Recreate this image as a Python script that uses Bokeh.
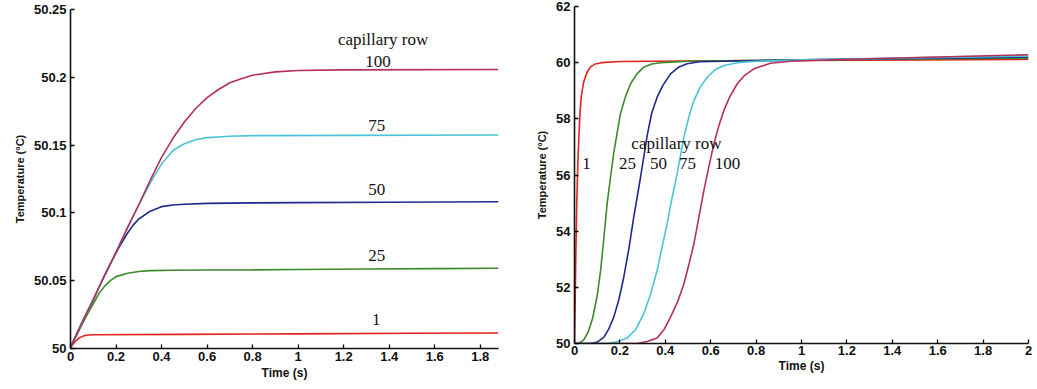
from bokeh.plotting import figure
from bokeh.layouts import row
from bokeh.models import Range1d, FixedTicker
from bokeh.core.properties import value
from bokeh.embed import file_html
from bokeh.resources import INLINE

# ---------------- data: left panel (temperature rise, small scale) ----------------
rows = ["1", "25", "50", "75", "100"]
colors = ["#e0241c", "#3a8a2a", "#1e2a8a", "#4cc4d8", "#b52f5c"]

L_t_1 = [0, 0.02, 0.04, 0.06, 0.08, 0.1, 0.5, 1.0, 1.5, 1.88]
L_v_1 = [50.001, 50.005, 50.008, 50.0095, 50.0100, 50.0101, 50.0104, 50.0108, 50.0112, 50.0114]

L_t_25 = [0, 0.025, 0.05, 0.075, 0.1, 0.125, 0.15, 0.175, 0.2, 0.25, 0.3, 0.35, 0.45, 0.6, 0.8, 1.0, 1.3, 1.6, 1.88]
L_v_25 = [50.001, 50.009, 50.0175, 50.0255, 50.033, 50.0405, 50.046, 50.050, 50.053, 50.0555, 50.0568,
          50.0574, 50.0577, 50.0579, 50.058, 50.0583, 50.0586, 50.0589, 50.0592]

L_t_50 = [0, 0.05, 0.1, 0.15, 0.2, 0.225, 0.25, 0.275, 0.3, 0.35, 0.4, 0.45, 0.5, 0.6, 0.8, 1.0, 1.4, 1.88]
L_v_50 = [50.001, 50.019, 50.036, 50.054, 50.0705, 50.078, 50.085, 50.091, 50.0955, 50.1013, 50.1046,
          50.1058, 50.1064, 50.107, 50.1074, 50.1076, 50.1079, 50.1082]

L_t_75 = [0, 0.05, 0.1, 0.15, 0.2, 0.25, 0.3, 0.35, 0.4, 0.45, 0.5, 0.55, 0.6, 0.7, 0.8, 1.2, 1.88]
L_v_75 = [50.001, 50.019, 50.036, 50.054, 50.071, 50.089, 50.106, 50.122, 50.136, 50.146, 50.151,
          50.154, 50.1555, 50.1565, 50.157, 50.1572, 50.1575]

L_t_100 = [0, 0.05, 0.1, 0.15, 0.2, 0.25, 0.3, 0.35, 0.4, 0.45, 0.5, 0.55, 0.6, 0.65, 0.7, 0.75, 0.8,
           0.9, 1.0, 1.2, 1.88]
L_v_100 = [50.001, 50.019, 50.036, 50.054, 50.071, 50.089, 50.106, 50.124, 50.141, 50.155, 50.167,
           50.177, 50.185, 50.191, 50.196, 50.199, 50.2015, 50.204, 50.205, 50.2055, 50.2058]

L_ticks_x = [0, 0.2, 0.4, 0.6, 0.8, 1.0, 1.2, 1.4, 1.6, 1.8]
L_labels_x = ["0", "0.2", "0.4", "0.6", "0.8", "1", "1.2", "1.4", "1.6", "1.8"]
L_ticks_y = [50, 50.05, 50.1, 50.15, 50.2, 50.25]
L_labels_y = ["50", "50.05", "50.1", "50.15", "50.2", "50.25"]

# ---------------- data: right panel (temperature rise to 60 C) ----------------
R_t_1 = [0, 0.003, 0.006, 0.01, 0.015, 0.02, 0.025, 0.03, 0.04, 0.055, 0.07, 0.09, 0.12, 0.2, 0.5, 1.0, 1.5, 2.0]
R_v_1 = [50, 51.5, 53.2, 55.0, 56.5, 57.5, 58.3, 58.8, 59.3, 59.65, 59.85, 59.95, 60.0, 60.04, 60.06,
         60.08, 60.1, 60.12]

R_t_25 = [0, 0.02, 0.04, 0.06, 0.08, 0.1, 0.115, 0.13, 0.144, 0.16, 0.173, 0.19, 0.203, 0.225, 0.247,
          0.275, 0.305, 0.34, 0.38, 0.5, 1.0, 1.5, 2.0]
R_v_25 = [50, 50.02, 50.12, 50.4, 50.9, 51.7, 52.6, 53.8, 55.0, 56.0, 56.8, 57.6, 58.2, 58.8, 59.25,
          59.6, 59.84, 59.95, 60.0, 60.05, 60.1, 60.13, 60.16]

R_t_50 = [0, 0.07, 0.1, 0.129, 0.15, 0.173, 0.195, 0.217, 0.24, 0.261, 0.291, 0.32, 0.34, 0.364, 0.39,
          0.423, 0.46, 0.496, 0.55, 0.7, 1.0, 1.5, 2.0]
R_v_50 = [50, 50.0, 50.05, 50.22, 50.5, 50.94, 51.55, 52.36, 53.4, 54.5, 55.92, 57.4, 58.2, 58.77, 59.2,
          59.6, 59.85, 59.96, 60.03, 60.06, 60.1, 60.15, 60.2]

R_t_75 = [0, 0.144, 0.19, 0.232, 0.27, 0.305, 0.335, 0.364, 0.385, 0.408, 0.43, 0.452, 0.482, 0.505,
          0.526, 0.555, 0.585, 0.62, 0.658, 0.72, 0.8, 1.0, 1.5, 2.0]
R_v_75 = [50, 50.0, 50.07, 50.2, 50.5, 51.06, 51.75, 52.6, 53.4, 54.26, 55.2, 56.04, 57.35, 58.1,
          58.65, 59.15, 59.48, 59.75, 59.9, 60.0, 60.05, 60.1, 60.17, 60.24]

R_t_100 = [0, 0.276, 0.32, 0.364, 0.395, 0.423, 0.455, 0.482, 0.505, 0.526, 0.548, 0.57, 0.592, 0.614,
           0.636, 0.658, 0.685, 0.717, 0.75, 0.79, 0.863, 0.95, 1.2, 1.6, 2.0]
R_v_100 = [50, 50, 50.07, 50.2, 50.5, 50.94, 51.5, 52.13, 52.85, 53.55, 54.5, 55.45, 56.3, 57.11,
           57.75, 58.3, 58.8, 59.25, 59.55, 59.78, 59.98, 60.05, 60.12, 60.2, 60.28]

R_ticks_x = [0, 0.2, 0.4, 0.6, 0.8, 1.0, 1.2, 1.4, 1.6, 1.8, 2.0]
R_labels_x = ["0", "0.2", "0.4", "0.6", "0.8", "1", "1.2", "1.4", "1.6", "1.8", "2"]
R_ticks_y = [50, 52, 54, 56, 58, 60, 62]
R_labels_y = ["50", "52", "54", "56", "58", "60", "62"]

title_text = "capillary row"

# annotation placement (data coordinates)
L_lab_x = [1.343, 1.345, 1.345, 1.345, 1.351]
L_lab_y = [50.0211, 50.0689, 50.1169, 50.1647, 50.2118]
L_title_xy = (1.373, 50.228)
R_lab_x = [0.053, 0.233, 0.37, 0.498, 0.674]
R_lab_y = [56.41, 56.41, 56.41, 56.41, 56.41]
R_title_xy = (0.449, 57.12)

SERIF = value("Liberation Serif")


def style(p, tx, lx, ty, ly, x_label_standoff, x_title_standoff):
    p.grid.visible = False
    p.outline_line_color = None
    p.background_fill_color = "white"
    p.border_fill_color = "white"
    p.xaxis.ticker = FixedTicker(ticks=tx)
    p.xaxis.major_label_overrides = dict(zip(tx, lx))
    p.yaxis.ticker = FixedTicker(ticks=ty)
    p.yaxis.major_label_overrides = dict(zip(ty, ly))
    for ax in p.axis:
        ax.axis_line_width = 1.6
        ax.axis_line_color = "#111111"
        ax.major_tick_in = 4
        ax.major_tick_out = 0
        ax.major_tick_line_width = 1.3
        ax.minor_tick_line_color = None
        ax.major_label_text_font = "Liberation Sans"
        ax.major_label_text_font_style = "bold"
        ax.major_label_text_font_size = "13px"
        ax.major_label_text_color = "#111111"
        ax.axis_label_text_font = "Liberation Sans"
        ax.axis_label_text_font_style = "bold"
        ax.axis_label_text_color = "#111111"
    p.xaxis.major_label_standoff = x_label_standoff
    p.yaxis.major_label_standoff = 4
    p.xaxis.axis_label = "Time (s)"
    p.xaxis.axis_label_text_font_size = "12px"
    p.xaxis.axis_label_standoff = x_title_standoff
    p.yaxis.axis_label = "Temperature (\u00b0C)"
    p.yaxis.axis_label_text_font_size = "11px"
    p.yaxis.axis_label_standoff = 5


# ---------------- left figure ----------------
p1 = figure(width=520, height=388, x_range=Range1d(0, 1.88), y_range=Range1d(50, 50.25),
            min_border_left=70, min_border_right=22, min_border_top=9, min_border_bottom=40,
            frame_align=False, output_backend="svg", toolbar_location=None)
style(p1, L_ticks_x, L_labels_x, L_ticks_y, L_labels_y, 3, 2)

left_series = [(L_t_1, L_v_1), (L_t_25, L_v_25), (L_t_50, L_v_50), (L_t_75, L_v_75), (L_t_100, L_v_100)]
for (t, v), c in zip(left_series, colors):
    p1.line(t, v, line_color=c, line_width=1.6)

p1.text(x=L_lab_x, y=L_lab_y, text=rows, text_font=SERIF, text_font_size="17px",
        text_align="center", text_baseline="middle", text_color="#111111")
p1.text(x=[L_title_xy[0]], y=[L_title_xy[1]], text=[title_text], text_font=SERIF,
        text_font_size="17px", text_align="center", text_baseline="middle", text_color="#111111")

# ---------------- right figure ----------------
p2 = figure(width=516, height=388, x_range=Range1d(0, 2.0), y_range=Range1d(50, 62),
            min_border_left=54, min_border_right=8, min_border_top=6, min_border_bottom=45,
            frame_align=False, output_backend="svg", toolbar_location=None)
style(p2, R_ticks_x, R_labels_x, R_ticks_y, R_labels_y, 2, 1)

right_series = [(R_t_1, R_v_1), (R_t_25, R_v_25), (R_t_50, R_v_50), (R_t_75, R_v_75), (R_t_100, R_v_100)]
for (t, v), c in zip(right_series, colors):
    p2.line(t, v, line_color=c, line_width=1.6)

p2.text(x=R_lab_x, y=R_lab_y, text=rows, text_font=SERIF, text_font_size="17px",
        text_align="center", text_baseline="middle", text_color="#111111")
p2.text(x=[R_title_xy[0]], y=[R_title_xy[1]], text=[title_text], text_font=SERIF,
        text_font_size="17px", text_align="center", text_baseline="middle", text_color="#111111")

layout = row(p1, p2)
open("out.html", "w").write(file_html(layout, INLINE))
